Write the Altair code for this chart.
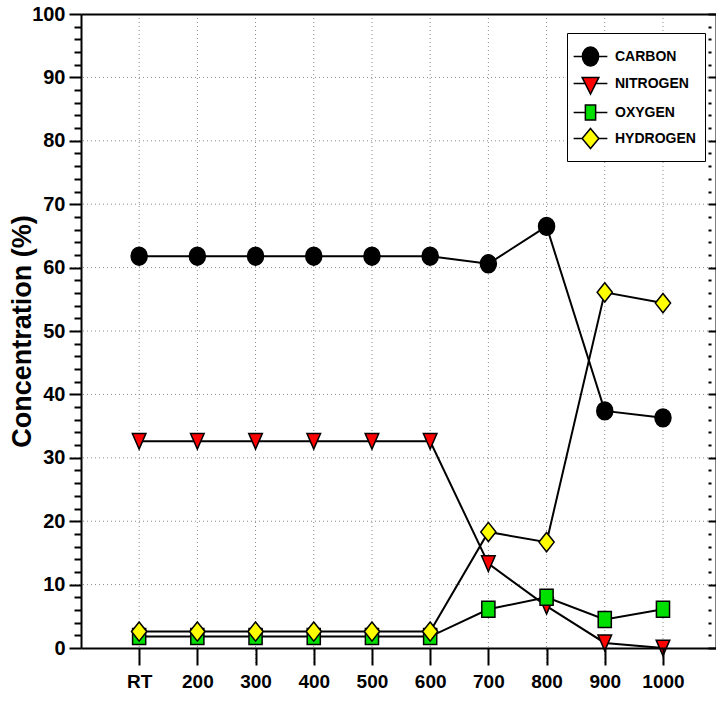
import altair as alt
import pandas as pd

categories = ["RT", "200", "300", "400", "500", "600", "700", "800", "900", "1000"]
series = ["CARBON", "NITROGEN", "OXYGEN", "HYDROGEN"]
carbon = [61.8, 61.8, 61.8, 61.8, 61.8, 61.8, 60.6, 66.5, 37.4, 36.3]
nitrogen = [32.6, 32.6, 32.6, 32.6, 32.6, 32.6, 13.3, 6.6, 0.8, 0.0]
oxygen = [1.8, 1.8, 1.8, 1.8, 1.8, 1.8, 6.1, 8.0, 4.5, 6.1]
hydrogen = [2.6, 2.6, 2.6, 2.6, 2.6, 2.6, 18.3, 16.7, 56.1, 54.4]
fills = ["#000000", "#ff0000", "#00e000", "#ffff00"]

y_ticks = list(range(0, 101, 2))
y_grid = list(range(10, 100, 10))
MAJOR = "datum.value % 10 === 0"

plot_paths = [
    "M-1,0A1,1.12 0 1,0 1,0A1,1.12 0 1,0 -1,0Z",
    "M-0.85,-0.98L0.85,-0.98L0,0.98Z",
    "M-0.82,-1H0.82V1H-0.82Z",
    "M0,-1.2L0.95,0L0,1.2L-0.95,0Z",
]
legend_paths = [
    "M-1.25,0H-0.6M0.6,0H1.25M-0.6,0A0.6,0.7 0 1,0 0.6,0A0.6,0.7 0 1,0 -0.6,0Z",
    "M-1.25,0H-0.39M0.39,0H1.25M-0.62,-0.45L0.62,-0.45L0,0.78Z",
    "M-1.25,0H-0.38M0.38,0H1.25M-0.38,-0.56H0.38V0.56H-0.38Z",
    "M-1.25,0H-0.62M0.62,0H1.25M0,-0.74L0.62,0L0,0.74L-0.62,0Z",
]

rows = []
for name, vals in zip(series, [carbon, nitrogen, oxygen, hydrogen]):
    for c, v in zip(categories, vals):
        rows.append({"temp": c, "value": v, "series": name})
df = pd.DataFrame(rows)
df_vgrid = pd.DataFrame({"temp": categories})
df_hgrid = pd.DataFrame({"g": y_grid})

FONT = "Liberation Sans"

# The view reaches 12 px left of the y axis and 17 px below the x axis,
# so that the outward tick marks are drawn inside it.
x_scale = alt.Scale(type="point", padding=0.955, align=0.523, range=[12, 647])
y_scale = alt.Scale(domain=[0, 100], nice=False, zero=True, range=[634, 0])

x_axis_bottom = alt.Axis(
    orient="bottom", offset=-17, title=None, grid=False,
    ticks=True, tickSize=17, tickWidth=2, tickColor="black",
    domain=True, domainColor="black", domainWidth=2,
    labelFont=FONT, labelFontWeight="bold", labelFontSize=19, labelColor="black",
    labelPadding=7, labelAngle=0, zindex=1,
)
x_axis_top = alt.Axis(
    orient="top", title=None, grid=False, ticks=False, labels=False,
    domain=True, domainColor="black", domainWidth=2, zindex=1,
)

left_axis = alt.Axis(
    orient="left", offset=-12, values=y_ticks,
    labelExpr=f"{MAJOR} ? datum.label : ''",
    ticks=True, tickWidth=2, tickColor="black",
    tickSize={"condition": {"test": MAJOR, "value": 12}, "value": 7},
    domain=True, domainColor="black", domainWidth=2,
    labelFont=FONT, labelFontWeight="bold", labelFontSize=20, labelColor="black",
    labelPadding=4, grid=False,
    title="Concentration (%)", titleFont=FONT, titleFontSize=27, titleFontWeight="bold",
    titleColor="black", titleAngle=-90, titleX=-45, titleY=317,
    titleAlign="center", titleBaseline="bottom", zindex=1,
)
right_axis = alt.Axis(
    orient="right", values=y_ticks, offset=-8,
    ticks=True, tickWidth=2, tickColor="black",
    tickSize={"condition": {"test": MAJOR, "value": 8}, "value": 3},
    labels=False, domain=False, grid=False, title=None, zindex=1,
)
right_frame = alt.Axis(
    orient="right", ticks=False, labels=False, grid=False, title=None,
    domain=True, domainColor="black", domainWidth=2, zindex=1,
)

vgrid = alt.Chart(df_vgrid).mark_rule(color="#8a8a8a", strokeWidth=1, strokeDash=[1, 3]).encode(
    x=alt.X("temp:N", sort=categories, scale=x_scale, axis=x_axis_top),
)
hgrid = alt.Chart(df_hgrid).mark_rule(color="#8a8a8a", strokeWidth=1, strokeDash=[1, 3]).encode(
    y=alt.Y("g:Q", scale=y_scale, axis=None),
)

base = alt.Chart(df)

lines = base.mark_line(color="black", strokeWidth=2).encode(
    x=alt.X("temp:N", sort=categories, scale=x_scale, axis=x_axis_bottom),
    y=alt.Y("value:Q", scale=y_scale, axis=left_axis),
    detail="series:N",
)

points = base.mark_point(filled=True, stroke="black", strokeWidth=1.5, opacity=1, size=256).encode(
    x=alt.X("temp:N", sort=categories, scale=x_scale, axis=None),
    y=alt.Y("value:Q", scale=y_scale, axis=right_axis),
    shape=alt.Shape("series:N", scale=alt.Scale(domain=series, range=plot_paths), legend=None),
    fill=alt.Fill("series:N", scale=alt.Scale(domain=series, range=fills), legend=None),
)

leg = alt.Legend(
    title=None, orient="none", legendX=498, legendY=19,
    fillColor="white", strokeColor="black", padding=9, rowPadding=0,
    labelFont=FONT, labelFontWeight="bold", labelFontSize=14, labelColor="black",
    labelOffset=10, labelLimit=200,
    symbolSize=729, symbolStrokeWidth=1.5, symbolOpacity=1,
)

legend_layer = base.transform_filter("false").mark_point(
    filled=False, stroke="black", strokeWidth=1.5, opacity=1, size=729
).encode(
    x=alt.X("temp:N", sort=categories, scale=x_scale, axis=None),
    y=alt.Y("value:Q", scale=y_scale, axis=right_frame),
    shape=alt.Shape("series:N", scale=alt.Scale(domain=series, range=legend_paths), legend=leg),
    fill=alt.Fill("series:N", scale=alt.Scale(domain=series, range=fills), legend=leg),
)

chart = alt.layer(vgrid, hgrid, lines, points, legend_layer).resolve_scale(
    x="independent", y="independent", shape="independent", fill="independent"
).resolve_axis(x="independent", y="independent").properties(
    width=647, height=651,
    autosize=alt.AutoSizeParams(type="none"),
    padding={"left": 69, "top": 14, "right": 0, "bottom": 43},
    background="white",
).configure_view(stroke="transparent", strokeWidth=0)

chart.save("out.html", embed_options={"renderer": "svg", "actions": False})
